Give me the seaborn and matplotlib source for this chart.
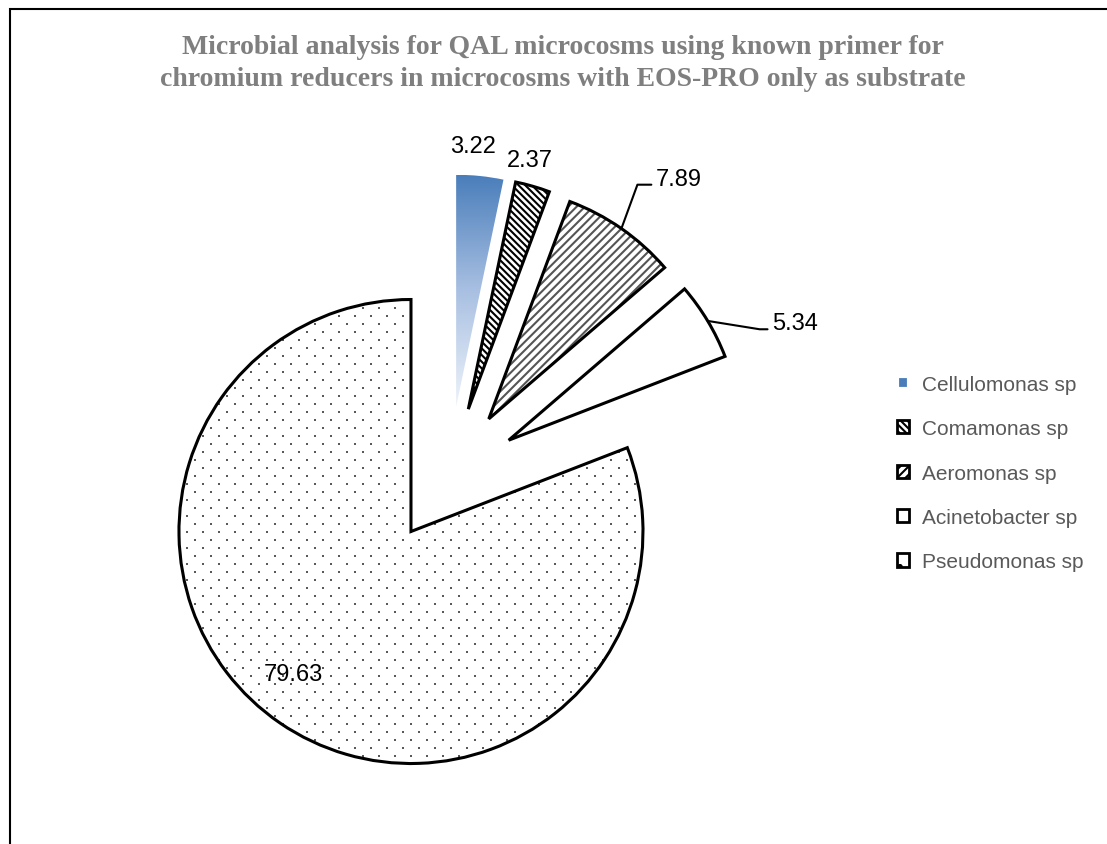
import numpy as np
import seaborn as sns
import matplotlib.pyplot as plt
from matplotlib.patches import Wedge, Patch, Rectangle
from matplotlib.colors import LinearSegmentedColormap

# data
species = ["Cellulomonas sp", "Comamonas sp", "Aeromonas sp", "Acinetobacter sp", "Pseudomonas sp"]
percent = [3.22, 2.37, 7.89, 5.34, 79.63]
value_labels = ["3.22", "2.37", "7.89", "5.34", "79.63"]

title = ("Microbial analysis for QAL microcosms using known primer for\n"
         "chromium reducers in microcosms with EOS-PRO only as substrate")

# styling
sns.set_theme(style="white")
plt.rcParams['font.family'] = ['Liberation Sans', 'DejaVu Sans']
plt.rcParams['hatch.linewidth'] = 1.5

explode = [0.3, 0.3, 0.3, 0.3, 0.29]
hatches = [None, '\\\\\\\\\\', '////', None, None]
hatch_colors = ['none', 'black', '#555555', 'white', 'white']
blue_dark = '#4a7ebb'
dot_color = '#595959'

W, H = 1107, 845
fig = plt.figure(figsize=(W / 100, H / 100), dpi=100)

# axes placed so the pie centre sits where the reference puts it
span = 3.6
px = 232  # pixels per data unit
cx, cy = 449, 477
ax = fig.add_axes([(cx - span / 2 * px) / W, (H - cy - span / 2 * px) / H,
                   span * px / W, span * px / H])

wedges, _ = ax.pie(percent, explode=explode, startangle=90, counterclock=False,
                   radius=1, wedgeprops=dict(linewidth=0))

for i, w in enumerate(wedges):
    bb = w.get_path().get_extents()
    if i == 0:
        # gradient fill, no outline
        w.set_facecolor('none')
        w.set_edgecolor('none')
        grad = np.linspace(0, 1, 256).reshape(-1, 1)
        cmap = LinearSegmentedColormap.from_list('b', ['#eef3fa', '#a9c0e2', blue_dark])
        im = ax.imshow(grad, cmap=cmap, origin='lower', aspect='auto',
                       extent=[bb.x0, bb.x1, bb.y0, bb.y1], zorder=1)
        im.set_clip_path(w)
        continue
    w.set_facecolor('white')
    w.set_edgecolor(hatch_colors[i])
    w.set_hatch(hatches[i])
    w.set_linewidth(0)
    if i == 4:
        # sparse staggered dot texture
        step = 16 / px
        gx, gy = [], []
        for k, y in enumerate(np.arange(bb.y0, bb.y1, step / 2)):
            xs = np.arange(bb.x0 + (k % 2) * step / 2, bb.x1, step)
            gx.extend(xs)
            gy.extend([y] * len(xs))
        dots = ax.scatter(gx, gy, s=2.2, marker='s', color=dot_color, linewidths=0, zorder=2)
        dots.set_clip_path(w)
    outline = Wedge(w.center, w.r, w.theta1, w.theta2, fill=False,
                    edgecolor='black', linewidth=2.2, zorder=3)
    ax.add_patch(outline)

ax.set_xlim(-span / 2, span / 2)
ax.set_ylim(-span / 2, span / 2)
ax.axis('off')

# value labels
label_r = [1.426, 1.404, None, None, 1.087]
label_turn = [1.8, 1.8, 0, 0, -3.7]
leader_offset = {2: (0.129, 0.189, 0.06), 3: (0.258, -0.036, 0.034)}
for i, w in enumerate(wedges):
    ang = np.deg2rad((w.theta1 + w.theta2) / 2 + label_turn[i])
    u = np.array([np.cos(ang), np.sin(ang)])
    if i in leader_offset:
        dx, dy, leg = leader_offset[i]
        arc = (explode[i] + 1.0) * u
        end = arc + np.array([dx, dy])
        ax.plot([arc[0], end[0] - leg, end[0]], [arc[1], end[1], end[1]],
                color='black', lw=1.5, zorder=4)
        ax.text(end[0] + 0.018, end[1], value_labels[i], fontsize=17,
                ha='left', va='baseline', color='black')
    else:
        pos = label_r[i] * u
        ax.text(pos[0], pos[1], value_labels[i], fontsize=17,
                ha='center', va='center', color='black', zorder=5)

# legend
handles = [Patch(facecolor=blue_dark, edgecolor='white', linewidth=3)]
for i in range(1, 5):
    handles.append(Patch(facecolor='white', edgecolor='black',
                         hatch=hatches[i] if hatches[i] else ('.' if i == 4 else None),
                         linewidth=2))
fig.legend(handles, species, loc='upper left', bbox_to_anchor=(878 / W, 1 - 357 / H),
           bbox_transform=fig.transFigure, frameon=False, fontsize=15,
           handlelength=0.6, handleheight=0.6, handletextpad=0.6,
           labelspacing=1.22, labelcolor='#595959')

fig.text(563 / W, 1 - 63.5 / H, title, ha='center', va='center', fontsize=20,
         fontweight='bold', color='#7f7f7f', family='Liberation Serif',
         linespacing=1.38)

# chart border
fig.patches.append(Rectangle((10 / W, -0.1), 1.2, 1 - 10 / H + 0.1, transform=fig.transFigure,
                             fill=False, edgecolor='black', linewidth=1.5))

plt.savefig('out.png', dpi=100)
